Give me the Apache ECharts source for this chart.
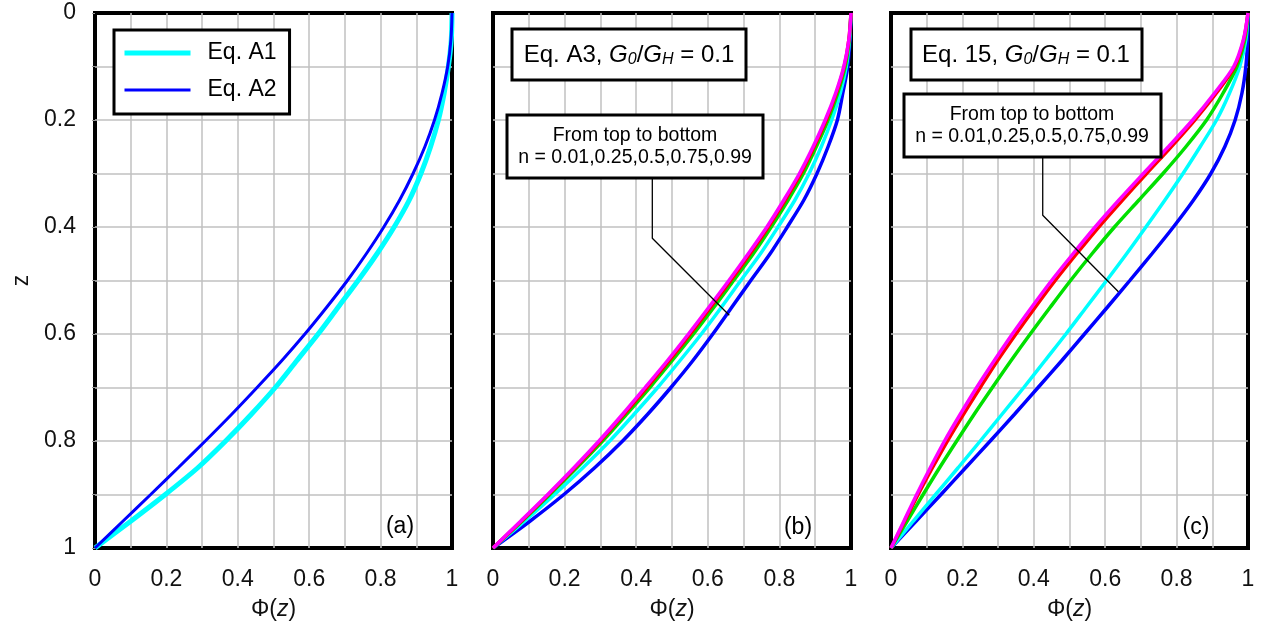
<!DOCTYPE html>
<html>
<head>
<meta charset="utf-8">
<script src="https://cdn.jsdelivr.net/npm/echarts@6/dist/echarts.min.js"></script>
<style>
html,body{margin:0;padding:0;background:#fff;}
#main{width:1263px;height:632px;}
</style>
</head>
<body>
<div id="main"></div>
<script>
// ---- data ----
const zLevels = [0, 0.05, 0.1, 0.15, 0.2, 0.25, 0.3, 0.35, 0.4, 0.45, 0.5,
                 0.55, 0.6, 0.65, 0.7, 0.75, 0.8, 0.85, 0.9, 0.95, 1];
const xTicks = [0, 0.2, 0.4, 0.6, 0.8, 1];
const yTicks = [0, 0.2, 0.4, 0.6, 0.8, 1];

// panel (a)
const phiA1 = [1, 0.998, 0.990, 0.978, 0.962, 0.940, 0.913, 0.880, 0.838, 0.790, 0.737,
               0.681, 0.625, 0.565, 0.505, 0.438, 0.366, 0.288, 0.197, 0.100, 0];
const phiA2 = [1, 0.997, 0.988, 0.972, 0.951, 0.924, 0.891, 0.853, 0.809, 0.760, 0.707,
               0.649, 0.588, 0.523, 0.454, 0.383, 0.309, 0.233, 0.156, 0.078, 0];

// panel (b) Eq. A3, n = 0.01, 0.25, 0.5, 0.75, 0.99
const bN001 = [1, 0.994, 0.980, 0.957, 0.928, 0.894, 0.856, 0.812, 0.765, 0.713, 0.659,
               0.603, 0.546, 0.487, 0.425, 0.362, 0.296, 0.226, 0.153, 0.077, 0];
const bN025 = [1, 0.994, 0.981, 0.959, 0.931, 0.897, 0.860, 0.816, 0.769, 0.718, 0.664,
               0.608, 0.551, 0.492, 0.430, 0.366, 0.300, 0.229, 0.155, 0.079, 0];
const bN050 = [1, 0.995, 0.984, 0.963, 0.936, 0.903, 0.867, 0.824, 0.777, 0.727, 0.672,
               0.617, 0.560, 0.500, 0.438, 0.373, 0.306, 0.234, 0.159, 0.081, 0];
const bN075 = [1, 0.996, 0.987, 0.970, 0.946, 0.917, 0.883, 0.843, 0.796, 0.747, 0.692,
               0.638, 0.582, 0.522, 0.460, 0.394, 0.326, 0.251, 0.172, 0.088, 0];
const bN099 = [1, 0.997, 0.991, 0.977, 0.962, 0.936, 0.905, 0.868, 0.822, 0.774, 0.720,
               0.667, 0.614, 0.558, 0.497, 0.432, 0.362, 0.284, 0.198, 0.103, 0];

// panel (c) Eq. 15
const cN001 = [1, 0.987, 0.960, 0.906, 0.845, 0.777, 0.707, 0.638, 0.572, 0.510, 0.450,
               0.394, 0.340, 0.289, 0.240, 0.194, 0.150, 0.110, 0.072, 0.036, 0];
const cN025 = [1, 0.988, 0.963, 0.911, 0.851, 0.785, 0.716, 0.648, 0.582, 0.520, 0.460,
               0.404, 0.350, 0.298, 0.250, 0.203, 0.158, 0.116, 0.076, 0.038, 0];
const cN050 = [1, 0.991, 0.969, 0.930, 0.884, 0.826, 0.762, 0.694, 0.626, 0.563, 0.503,
               0.446, 0.390, 0.336, 0.284, 0.233, 0.184, 0.136, 0.090, 0.045, 0];
const cN075 = [1, 0.994, 0.977, 0.948, 0.912, 0.866, 0.818, 0.767, 0.714, 0.660, 0.604,
               0.547, 0.490, 0.431, 0.372, 0.311, 0.250, 0.188, 0.125, 0.062, 0];
const cN099 = [1, 0.999, 0.994, 0.983, 0.964, 0.935, 0.896, 0.847, 0.791, 0.731, 0.669,
               0.606, 0.542, 0.478, 0.412, 0.346, 0.278, 0.209, 0.140, 0.070, 0];

// leader lines of the annotation boxes, [phi, z]
const leaderB = [[0.445, 0.308], [0.445, 0.421], [0.66, 0.565]];
const leaderC = [[0.425, 0.269], [0.425, 0.378], [0.637, 0.521]];

// ---- chart ----
const FONT = 'Liberation Sans, Arial, sans-serif';
const pair = (phi) => phi.map((p, i) => [p, zLevels[i]]);
const grids = [
  {left: 95, top: 13, width: 357, height: 535},
  {left: 493, top: 13, width: 358, height: 535},
  {left: 891, top: 13, width: 357, height: 535}
];
const tenth = v => Math.round(v * 10);
const gridLine = {show: true, showMinLine: false, showMaxLine: false, lineStyle: {color: '#c0c0c0', width: 1.5}};
function xAxis(i) {
  return {
    type: 'value', gridIndex: i, min: 0, max: 1, interval: 0.1,
    axisLine: {show: false},
    axisTick: {show: false},
    splitLine: gridLine,
    axisLabel: {
      margin: 20, fontSize: 23, fontFamily: FONT, color: '#111',
      formatter: v => xTicks.some(t => tenth(t) === tenth(v)) ? String(tenth(v) / 10) : ''
    },
    name: '{n|Φ(}{i|z}{n|)}', nameLocation: 'middle', nameGap: 50,
    nameTextStyle: {
      rich: {
        n: {fontSize: 23, fontFamily: FONT, color: '#111'},
        i: {fontSize: 23, fontFamily: FONT, fontStyle: 'italic', color: '#111'}
      }
    }
  };
}
function yAxis(i, labels) {
  return {
    type: 'value', gridIndex: i, min: 0, max: 1, interval: 0.1, inverse: true,
    axisLine: {show: false},
    axisTick: {show: labels, length: 3, lineStyle: {color: '#999'}},
    splitLine: gridLine,
    axisLabel: {
      show: labels, margin: 19, fontSize: 23, fontFamily: FONT, color: '#111',
      formatter: v => yTicks.some(t => tenth(t) === tenth(v)) ? String(tenth(v) / 10) : ''
    },
    name: labels ? 'z' : '', nameLocation: 'middle', nameGap: 62, nameRotate: 90,
    nameTextStyle: {fontSize: 23, fontFamily: FONT, color: '#111'}
  };
}
function curve(name, idx, phi, color, width) {
  return {
    name: name, type: 'line', xAxisIndex: idx, yAxisIndex: idx,
    data: pair(phi), smooth: 0.3, symbol: 'none', silent: true,
    lineStyle: {color: color, width: width}, itemStyle: {color: color}
  };
}
function leader(idx, pts) {
  return {
    type: 'line', xAxisIndex: idx, yAxisIndex: idx, data: pts, symbol: 'none',
    silent: true, lineStyle: {color: '#000', width: 1.3}, z: 5
  };
}

const boxRich = {
  n: {fontSize: 24, fontFamily: FONT, lineHeight: 30, fill: '#000'},
  i: {fontSize: 24, fontFamily: FONT, fontStyle: 'italic', lineHeight: 30, fill: '#000'},
  s: {fontSize: 16, fontFamily: FONT, fontStyle: 'italic', lineHeight: 16, padding: [10, 0, 0, 0], fill: '#000'}
};
function box(x, y, w, h) {
  return {type: 'rect', shape: {x: x, y: y, width: w, height: h},
    style: {fill: '#fff', stroke: '#000', lineWidth: 3}, z: 100};
}
function label(x, y, text, opts) {
  return {type: 'text', x: x, y: y, z: 101,
    style: Object.assign({text: text, fill: '#000', font: '23px ' + FONT,
      align: 'center', verticalAlign: 'middle'}, opts || {})};
}

const option = {
  backgroundColor: '#fff',
  animation: false,
  grid: grids.map(g => Object.assign({show: true, borderColor: '#000', borderWidth: 4, backgroundColor: 'transparent'}, g)),
  xAxis: [xAxis(0), xAxis(1), xAxis(2)],
  yAxis: [yAxis(0, true), yAxis(1, false), yAxis(2, false)],
  legend: {
    data: [
      {name: 'Eq. A1', lineStyle: {width: 5}},
      {name: 'Eq. A2', lineStyle: {width: 3}}
    ],
    orient: 'vertical', left: 114, top: 30,
    backgroundColor: '#fff', borderColor: '#000', borderWidth: 3,
    padding: [11, 13, 12, 8], itemWidth: 66, itemHeight: 14, itemGap: 13,
    itemStyle: {opacity: 0, borderWidth: 0},
    textStyle: {fontSize: 23, lineHeight: 24, fontFamily: FONT, color: '#000', padding: [0, 0, 0, 12]}
  },
  series: [
    curve('Eq. A1', 0, phiA1, '#00ffff', 5),
    curve('Eq. A2', 0, phiA2, '#0000ff', 3),
    curve('n = 0.99', 1, bN099, '#0000ff', 3.5),
    curve('n = 0.75', 1, bN075, '#00ffff', 3.5),
    curve('n = 0.5', 1, bN050, '#00e000', 3.5),
    curve('n = 0.25', 1, bN025, '#ff0000', 3.5),
    curve('n = 0.01', 1, bN001, '#ff00ff', 3.5),
    curve('n = 0.99 ', 2, cN099, '#0000ff', 3.5),
    curve('n = 0.75 ', 2, cN075, '#00ffff', 3.5),
    curve('n = 0.5 ', 2, cN050, '#00e000', 3.5),
    curve('n = 0.25 ', 2, cN025, '#ff0000', 3.5),
    curve('n = 0.01 ', 2, cN001, '#ff00ff', 3.5),
    leader(1, leaderB),
    leader(2, leaderC)
  ],
  graphic: [
    box(512, 29, 234, 51),
    label(629, 55, '{n|Eq. A3, }{i|G}{s|0}{n|/}{i|G}{s|H}{n| = 0.1}', {rich: boxRich}),
    box(507, 115, 256, 63),
    label(635, 147, 'From top to bottom\nn = 0.01,0.25,0.5,0.75,0.99', {font: '19.5px ' + FONT, lineHeight: 22}),
    box(911, 29, 231, 51),
    label(1026, 55, '{n|Eq. 15, }{i|G}{s|0}{n|/}{i|G}{s|H}{n| = 0.1}', {rich: boxRich}),
    box(904, 94, 257, 63),
    label(1032, 126, 'From top to bottom\nn = 0.01,0.25,0.5,0.75,0.99', {font: '19.5px ' + FONT, lineHeight: 22}),
    label(400, 527, '(a)'),
    label(798, 528, '(b)'),
    label(1196, 528, '(c)')
  ]
};
const chart = echarts.init(document.getElementById('main'), null, {renderer: 'canvas'});
chart.setOption(option);
</script>
</body>
</html>
